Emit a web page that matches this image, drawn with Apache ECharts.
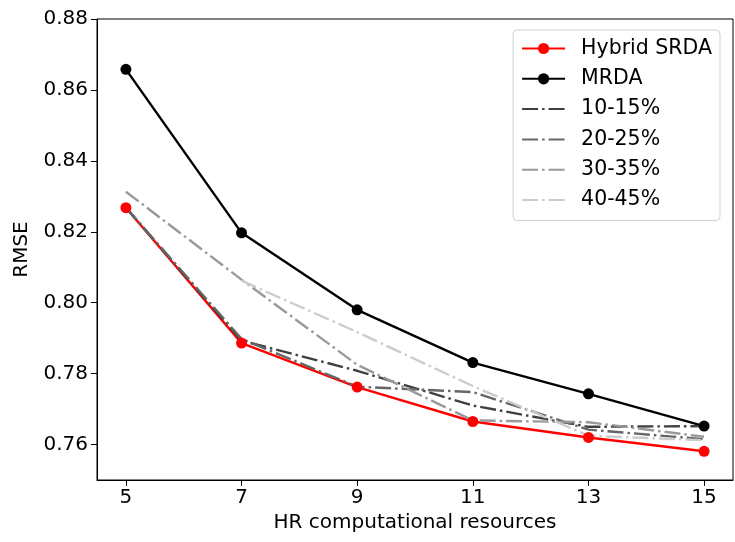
<!DOCTYPE html>
<html>
<head>
<meta charset="utf-8">
<script src="https://cdn.jsdelivr.net/npm/echarts@6/dist/echarts.min.js"></script>
<style>html,body{margin:0;padding:0;background:#fff;}#c{width:735px;height:542px;}</style>
</head>
<body>
<div id="c"></div>
<script>
const xValues = [5, 7, 9, 11, 13, 15];
const hybridSRDA = [0.8268, 0.7886, 0.7762, 0.7665, 0.7620, 0.7581];
const mrda = [0.8658, 0.8197, 0.7980, 0.7831, 0.7743, 0.7652];
const p10_15 = [0.8268, 0.7893, 0.7808, 0.7710, 0.7650, 0.7652];
const p20_25 = [0.8268, 0.7898, 0.7763, 0.7748, 0.7642, 0.7615];
const p30_35 = [0.8313, 0.8065, 0.7825, 0.7668, 0.7663, 0.7622];
const p40_45 = [null, 0.8062, 0.7917, 0.7765, 0.7625, 0.7612];
const yTicks = [0.76, 0.78, 0.80, 0.82, 0.84, 0.86, 0.88];

const font = 'DejaVu Sans';
const pairs = arr => xValues.map((x, i) => [x, arr[i]]);
const dashDot = [16, 4, 2.5, 4];
const LW = 2.4;

function markerSeries(name, data, color) {
  return {
    name, type: 'line', data: pairs(data),
    symbol: 'circle', symbolSize: 11,
    itemStyle: { color },
    lineStyle: { color, width: LW },
    emphasis: { disabled: true }
  };
}
function dashSeries(name, data, color) {
  return {
    name, type: 'line', data: pairs(data),
    symbol: 'none', connectNulls: false,
    itemStyle: { color },
    lineStyle: { color, width: LW, type: dashDot },
    emphasis: { disabled: true }
  };
}
const hideSym = { color: 'rgba(0,0,0,0)', borderWidth: 0, opacity: 0 };

const chart = echarts.init(document.getElementById('c'), null, { renderer: 'canvas' });
chart.setOption({
  animation: false,
  backgroundColor: '#fff',
  textStyle: { fontFamily: font },
  grid: { left: 97, right: 2, top: 19, bottom: 62, show: true, borderColor: '#000', borderWidth: 1 },
  xAxis: {
    type: 'value', min: 4.5, max: 15.5,
    name: 'HR computational resources', nameLocation: 'middle', nameGap: 33,
    nameTextStyle: { fontFamily: font, fontSize: 20, color: '#000' },
    axisLine: { show: true, lineStyle: { color: '#000', width: 1 } },
    axisTick: { show: true, inside: false, length: 6, customValues: xValues, lineStyle: { color: '#000' } },
    axisLabel: { customValues: xValues, fontFamily: font, fontSize: 20, color: '#000', margin: 8 },
    splitLine: { show: false }
  },
  yAxis: {
    type: 'value', min: 0.75, max: 0.88,
    name: 'RMSE', nameLocation: 'middle', nameGap: 65,
    nameTextStyle: { fontFamily: font, fontSize: 20, color: '#000' },
    axisLine: { show: true, lineStyle: { color: '#000', width: 1 } },
    axisTick: { show: true, inside: false, length: 6, customValues: yTicks, lineStyle: { color: '#000' } },
    axisLabel: { customValues: yTicks, fontFamily: font, fontSize: 20, color: '#000', margin: 9,
      formatter: v => v.toFixed(2) },
    splitLine: { show: false }
  },
  legend: {
    right: 15, top: 30, orient: 'vertical',
    padding: [8, 8, 10, 8],
    itemWidth: 43, itemHeight: 14, itemGap: 9.3,
    backgroundColor: '#fff', borderColor: '#d0d0d0', borderWidth: 1, borderRadius: 4,
    textStyle: { fontFamily: font, fontSize: 20.5, lineHeight: 20, color: '#000', padding: [0, 0, 0, 11] },
    data: [
      { name: 'Hybrid SRDA' },
      { name: 'MRDA' },
      { name: '10-15%', itemStyle: hideSym },
      { name: '20-25%', itemStyle: hideSym },
      { name: '30-35%', itemStyle: hideSym },
      { name: '40-45%', itemStyle: hideSym }
    ]
  },
  series: [
    markerSeries('Hybrid SRDA', hybridSRDA, '#ff0000'),
    markerSeries('MRDA', mrda, '#000000'),
    dashSeries('10-15%', p10_15, '#404040'),
    dashSeries('20-25%', p20_25, '#666666'),
    dashSeries('30-35%', p30_35, '#999999'),
    dashSeries('40-45%', p40_45, '#cccccc')
  ]
});
</script>
</body>
</html>
